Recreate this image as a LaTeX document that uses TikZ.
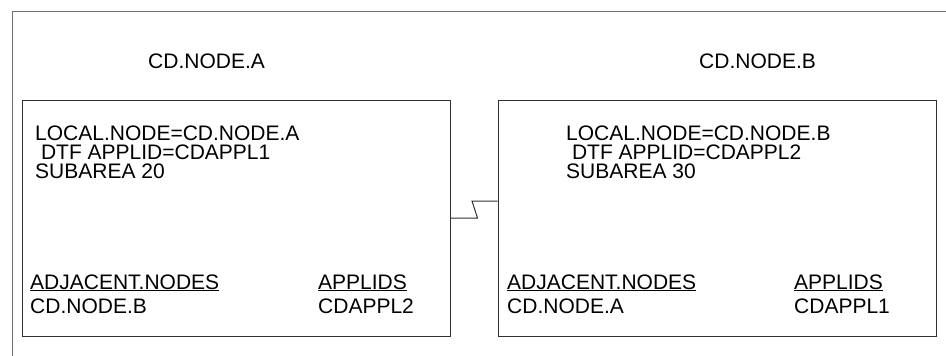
\documentclass[tikz,border=0pt]{standalone}
\usepackage{fontspec}
\setmainfont{Liberation Sans}

\begin{document}
\begin{tikzpicture}[x=1pt, y=-1pt]
    \definecolor{frameColour}{HTML}{707070}
    \definecolor{lineColour}{HTML}{303030}

    \tikzset{
        box/.style={draw=lineColour, line width=1pt, inner sep=0pt},
        txt/.style={anchor=base west, inner sep=0pt, font=\fontsize{21}{24}\selectfont}
    }

    \useasboundingbox (0,0) rectangle (946,356);

    % Outer frame (only top and left edges are in view)
    \draw[frameColour, line width=1pt] (12,356) -- (12,11) -- (946,11);

    % Node titles
    \node[txt] (titleA) at (148,68) {CD.NODE.A};
    \node[txt] (titleB) at (699,68) {CD.NODE.B};

    % The two node boxes
    \node[box, minimum width=428pt, minimum height=236pt] (boxA) at (236,218) {};
    \node[box, minimum width=438pt, minimum height=236pt] (boxB) at (717,218) {};

    % Contents of node A
    \node[txt] (localA) at (35,140) {LOCAL.NODE=CD.NODE.A};
    \node[txt] (dtfA) at (35,159) {~DTF APPLID=CDAPPL1};
    \node[txt] (subA) at (35,178) {SUBAREA 20};
    \node[txt] (adjA) at (30,289) {\underline{ADJACENT.NODES}};
    \node[txt] (adjNameA) at (30,313) {CD.NODE.B};
    \node[txt] (appA) at (318,289) {\underline{APPLIDS}};
    \node[txt] (appNameA) at (318,313) {CDAPPL2};

    % Contents of node B
    \node[txt] (localB) at (566,140) {LOCAL.NODE=CD.NODE.B};
    \node[txt] (dtfB) at (566,159) {~DTF APPLID=CDAPPL2};
    \node[txt] (subB) at (566,178) {SUBAREA 30};
    \node[txt] (adjB) at (507,289) {\underline{ADJACENT.NODES}};
    \node[txt] (adjNameB) at (507,313) {CD.NODE.A};
    \node[txt] (appB) at (794,289) {\underline{APPLIDS}};
    \node[txt] (appNameB) at (794,313) {CDAPPL1};

    % Link between the nodes
    \coordinate (zagTop) at (472,201);
    \draw[lineColour, line width=1pt] (boxA.east) -- ++(27,0) -- (zagTop) -- (zagTop -| boxB.west);

\end{tikzpicture}
\end{document}
